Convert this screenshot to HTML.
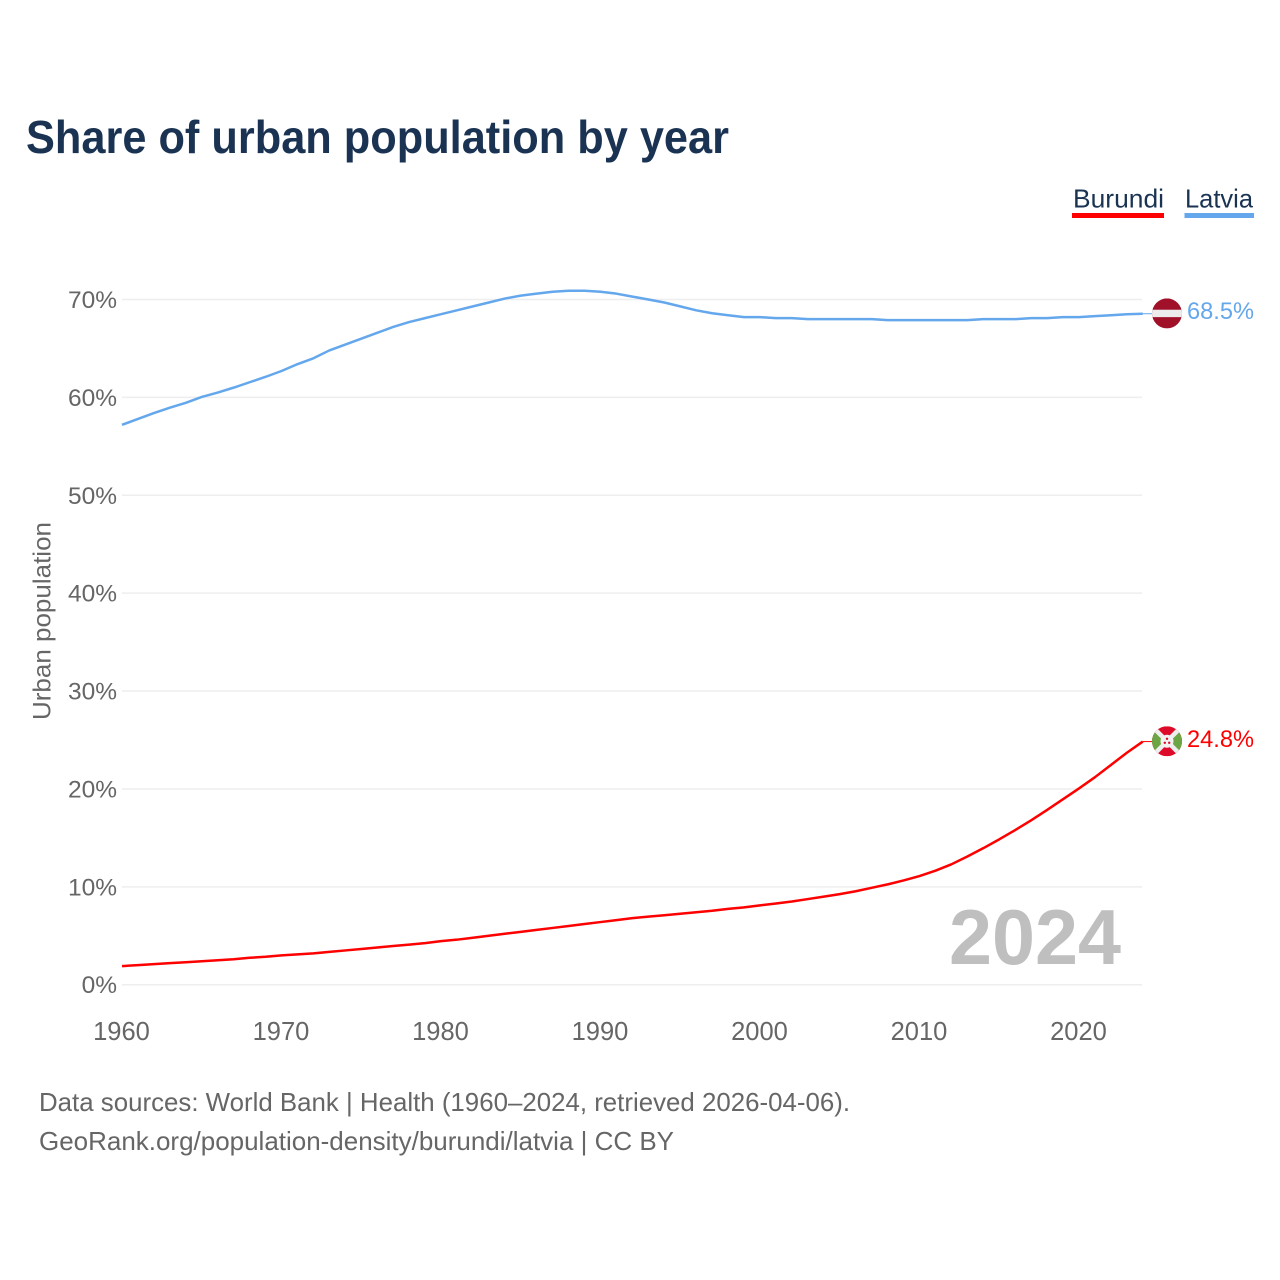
<!DOCTYPE html>
<html lang="en">
<head>
<meta charset="utf-8">
<title>Share of urban population by year</title>
<style>
html,body{margin:0;padding:0;background:#fff;}
svg{display:block;font-family:"Liberation Sans",sans-serif;}
</style>
</head>
<body>
<svg id="chart" xmlns="http://www.w3.org/2000/svg" width="1280" height="1280" viewBox="0 0 1280 1280">
  <defs>
    <clipPath id="flag-clip-latvia"><circle cx="1167" cy="313" r="15"/></clipPath>
    <clipPath id="flag-clip-burundi"><circle cx="1167" cy="741" r="15"/></clipPath>
  </defs>
  <rect width="1280" height="1280" fill="#fff"/>
  <text x="26" y="153" font-size="46" font-weight="700" fill="#1a3353" textLength="703" lengthAdjust="spacingAndGlyphs">Share of urban population by year</text>
  <g>
    <g>
      <text x="1073" y="207.5" font-size="26" fill="#1a3353" textLength="91" lengthAdjust="spacingAndGlyphs">Burundi</text>
      <rect x="1072" y="213" width="92" height="5" fill="#ff0000"/>
    </g>
    <g>
      <text x="1185" y="207.5" font-size="26" fill="#1a3353" textLength="68" lengthAdjust="spacingAndGlyphs">Latvia</text>
      <rect x="1184.5" y="213" width="69.5" height="5" fill="#64a7ec"/>
    </g>
  </g>
  <g id="grid"></g>
  <g id="y-ticks"></g>
  <g id="x-ticks"></g>
  <text transform="translate(50.5,621) rotate(-90)" text-anchor="middle" font-size="25" fill="#666" textLength="198" lengthAdjust="spacingAndGlyphs">Urban population</text>
  <text id="year-watermark" x="949" y="964" font-size="78" font-weight="700" fill="#bfbfbf" textLength="172" lengthAdjust="spacingAndGlyphs">2024</text>
  <g id="series"></g>

  <g id="flag-latvia" clip-path="url(#flag-clip-latvia)">
    <rect x="1152" y="298" width="30" height="30" fill="#a01029"/>
    <rect x="1152" y="309.3" width="30" height="7.4" fill="#ececec"/>
  </g>
  <g id="flag-burundi" clip-path="url(#flag-clip-burundi)">
    <rect x="1152" y="726" width="30" height="30" fill="#dd0a2a"/>
    <polygon points="1152,726 1167,741 1152,756" fill="#6ca544"/>
    <polygon points="1182,726 1167,741 1182,756" fill="#6ca544"/>
    <line x1="1152" y1="726" x2="1182" y2="756" stroke="#eee" stroke-width="4.5"/>
    <line x1="1182" y1="726" x2="1152" y2="756" stroke="#eee" stroke-width="4.5"/>
    <circle cx="1167" cy="741" r="6.5" fill="#f2f2f2"/>
    <circle cx="1167" cy="738.5" r="1.2" fill="#dd0a2a"/>
    <circle cx="1164.8" cy="742.5" r="1.2" fill="#dd0a2a"/>
    <circle cx="1169.2" cy="742.5" r="1.2" fill="#dd0a2a"/>
  </g>

  <g>
    <text x="39" y="1111" font-size="26" fill="#666" textLength="811" lengthAdjust="spacingAndGlyphs">Data sources: World Bank | Health (1960–2024, retrieved 2026-04-06).</text>
    <text x="39" y="1150" font-size="26" fill="#666" textLength="635" lengthAdjust="spacingAndGlyphs">GeoRank.org/population-density/burundi/latvia | CC BY</text>
  </g>
</svg>
<script>
const startYear = 1960;
const latviaValues = [
  57.2,57.8,58.4,58.95,59.45,60.05,60.5,61.0,61.55,62.1,
  62.7,63.4,64.0,64.8,65.4,66.0,66.6,67.2,67.7,68.1,
  68.5,68.9,69.3,69.7,70.1,70.4,70.6,70.8,70.9,70.9,
  70.8,70.6,70.3,70.0,69.7,69.3,68.9,68.6,68.4,68.2,
  68.2,68.1,68.1,68.0,68.0,68.0,68.0,68.0,67.9,67.9,
  67.9,67.9,67.9,67.9,68.0,68.0,68.0,68.1,68.1,68.2,
  68.2,68.3,68.4,68.5,68.55
];
const burundiValues = [
  1.9,2.0,2.1,2.2,2.3,2.4,2.5,2.6,2.75,2.85,
  3.0,3.1,3.2,3.35,3.5,3.65,3.8,3.95,4.1,4.25,
  4.45,4.6,4.8,5.0,5.2,5.4,5.6,5.8,6.0,6.2,
  6.4,6.6,6.8,6.95,7.1,7.25,7.4,7.55,7.75,7.9,
  8.1,8.3,8.5,8.75,9.0,9.25,9.55,9.9,10.25,10.65,
  11.1,11.65,12.3,13.1,13.95,14.85,15.8,16.8,17.85,18.95,
  20.05,21.2,22.45,23.7,24.84
];
const yTickValues = [0,10,20,30,40,50,60,70];
const xTickValues = [1960,1970,1980,1990,2000,2010,2020];

const SVG_NS = 'http://www.w3.org/2000/svg';
const xScale = function (year) { return 122 + (year - 1960) * 15.95; };
const yScale = function (pct) { return 984.7 - pct * 9.788; };
const labelX = 1187;
const flagX = 1152;

const gridLayer = document.getElementById('grid');
const yLayer = document.getElementById('y-ticks');
const xLayer = document.getElementById('x-ticks');
const seriesLayer = document.getElementById('series');

yTickValues.forEach(function (v) {
  const line = document.createElementNS(SVG_NS, 'line');
  
  
  line.setAttribute('x1', 122);
  line.setAttribute('x2', 1142);
  line.setAttribute('y1', yScale(v));
  line.setAttribute('y2', yScale(v));
  line.setAttribute('stroke', '#eeeeee');
  line.setAttribute('stroke-width', 1.5);
  gridLayer.appendChild(line);

  const label = document.createElementNS(SVG_NS, 'text');
  
  
  label.setAttribute('x', 117);
  label.setAttribute('y', yScale(v) + 8.5);
  label.setAttribute('text-anchor', 'end');
  label.setAttribute('font-size', 24.5);
  label.setAttribute('fill', '#666');
  label.textContent = v + '%';
  yLayer.appendChild(label);
});

xTickValues.forEach(function (y) {
  const label = document.createElementNS(SVG_NS, 'text');
  
  
  label.setAttribute('x', xScale(y) - 0.5);
  label.setAttribute('y', 1040);
  label.setAttribute('text-anchor', 'middle');
  label.setAttribute('font-size', 25.5);
  label.setAttribute('fill', '#666');
  label.textContent = y;
  xLayer.appendChild(label);
});

function drawSeries(values, colour, key) {
  let d = '';
  values.forEach(function (v, i) {
    d += (i ? 'L' : 'M') + xScale(startYear + i).toFixed(2) + ' ' + yScale(v).toFixed(2);
  });
  const last = values[values.length - 1];
  const lastY = yScale(last);

  const leader = document.createElementNS(SVG_NS, 'line');
  
  
  leader.setAttribute('x1', xScale(startYear + values.length - 1));
  leader.setAttribute('x2', flagX);
  leader.setAttribute('y1', lastY);
  leader.setAttribute('y2', lastY);
  leader.setAttribute('stroke', colour);
  leader.setAttribute('stroke-width', 1);
  seriesLayer.appendChild(leader);

  const path = document.createElementNS(SVG_NS, 'path');
  
  
  path.setAttribute('d', d);
  path.setAttribute('fill', 'none');
  path.setAttribute('stroke', colour);
  path.setAttribute('stroke-width', 2.5);
  path.setAttribute('stroke-linejoin', 'round');
  seriesLayer.appendChild(path);

  const label = document.createElementNS(SVG_NS, 'text');
  
  
  label.setAttribute('x', labelX);
  label.setAttribute('y', lastY + 5.5);
  label.setAttribute('font-size', 24.5);
  label.setAttribute('fill', colour);
  label.setAttribute('textLength', 67);
  label.setAttribute('lengthAdjust', 'spacingAndGlyphs');
  label.textContent = last.toFixed(1) + '%';
  seriesLayer.appendChild(label);

  return lastY;
}

function placeFlag(groupId, cy, baseCy) {
  document.getElementById(groupId).setAttribute('transform', 'translate(0 ' + (cy - baseCy) + ')');
}

const latviaY = drawSeries(latviaValues, '#64a7ec', 'latvia');
const burundiY = drawSeries(burundiValues, '#ff0000', 'burundi');
placeFlag('flag-latvia', latviaY - 0.3, 313);
placeFlag('flag-burundi', burundiY - 0.3, 741);
</script>
</body>
</html>
